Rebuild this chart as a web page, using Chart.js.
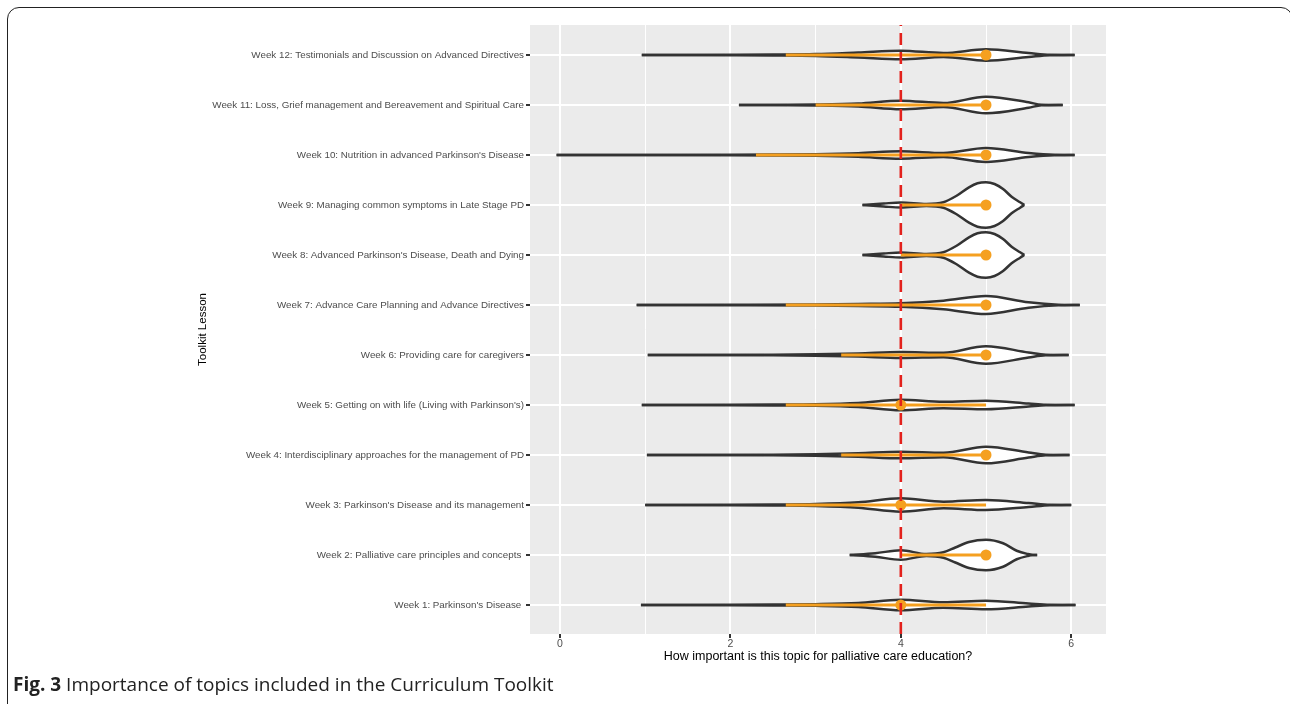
<!DOCTYPE html>
<html>
<head>
<meta charset="utf-8">
<script src="https://cdn.jsdelivr.net/npm/chart.js"></script>
<style>
  html, body { margin: 0; padding: 0; background: #fff; width: 1290px; height: 704px; overflow: hidden; }
  #wrap { position: absolute; left: 0; top: 0; width: 1290px; height: 668px; }
  #frame { position: absolute; left: 7px; top: 7px; width: 1286px; height: 720px; border: 1.5px solid #222; border-radius: 12px; box-sizing: border-box; pointer-events: none; }
  #caption { position: absolute; left: 13px; top: 672px; font-family: 'Open Sans', sans-serif; font-size: 19px; line-height: 24px; color: #222; white-space: nowrap; }
</style>
</head>
<body>
<div id="wrap"><canvas id="violinChart"></canvas></div>
<div id="frame"></div>
<div id="caption"><b>Fig. 3</b> Importance of topics included in the Curriculum Toolkit</div>
<script>
// lessons, bottom (week 1) to top (week 12)
const lessons = [
  "Week 1: Parkinson's Disease ",
  "Week 2: Palliative care principles and concepts ",
  "Week 3: Parkinson's Disease and its management",
  "Week 4: Interdisciplinary approaches for the management of PD",
  "Week 5: Getting on with life (Living with Parkinson's)",
  "Week 6: Providing care for caregivers",
  "Week 7: Advance Care Planning and Advance Directives",
  "Week 8: Advanced Parkinson's Disease, Death and Dying",
  "Week 9: Managing common symptoms in Late Stage PD",
  "Week 10: Nutrition in advanced Parkinson's Disease",
  "Week 11: Loss, Grief management and Bereavement and Spiritual Care",
  "Week 12: Testimonials and Discussion on Advanced Directives"
];

// summary point and range (orange)
const pointValues = [4, 5, 4, 5, 4, 5, 5, 5, 5, 5, 5, 5];
const rangeLow = [2.65, 4, 2.65, 3.3, 2.65, 3.3, 2.65, 4, 4, 2.3, 3, 2.65];
const rangeHigh = [5, 5, 5, 5, 5, 5, 5, 5, 5, 5, 5, 5];

// violin outline: rating values and half widths (in lesson units)
const violinValues = [
  [0.95, 2, 2.5, 3, 3.5, 4, 4.5, 5, 5.5, 5.75, 6.05],
  [3.4, 3.7, 4, 4.3, 4.5, 4.64, 4.8, 5, 5.2, 5.36, 5.49, 5.55, 5.6],
  [1.0, 2, 2.5, 3, 3.5, 4, 4.5, 5, 5.5, 5.75, 6.0],
  [1.02, 2.5, 3, 3.5, 4, 4.5, 5, 5.5, 5.7, 5.98],
  [0.96, 2, 2.5, 3, 3.5, 4, 4.5, 5, 5.5, 5.7, 6.04],
  [1.03, 2.5, 3, 3.5, 4, 4.5, 5, 5.5, 5.7, 5.97],
  [0.9, 2, 3, 3.5, 4, 4.5, 5, 5.5, 5.85, 6.1],
  [3.55, 3.8, 4, 4.3, 4.5, 4.65, 4.8, 4.9, 5, 5.1, 5.2, 5.3, 5.4, 5.45],
  [3.55, 3.8, 4, 4.3, 4.5, 4.65, 4.8, 4.9, 5, 5.1, 5.2, 5.3, 5.4, 5.45],
  [-0.04, 1, 2, 2.5, 3, 3.5, 4, 4.5, 5, 5.5, 5.8, 6.04],
  [2.1, 3, 3.5, 4, 4.5, 5, 5.5, 5.65, 5.9],
  [0.96, 2, 2.5, 3, 3.5, 4, 4.5, 5, 5.5, 5.75, 6.04]
];
const violinWidths = [
  [0, 0.004, 0.008, 0.016, 0.04, 0.106, 0.054, 0.086, 0.03, 0.004, 0],
  [0, 0.035, 0.095, 0.02, 0.055, 0.15, 0.26, 0.305, 0.235, 0.085, 0.02, 0.002, 0],
  [0, 0.004, 0.01, 0.02, 0.054, 0.134, 0.066, 0.1, 0.04, 0.004, 0],
  [0, 0.006, 0.014, 0.034, 0.066, 0.046, 0.166, 0.05, 0.006, 0],
  [0, 0.004, 0.008, 0.014, 0.04, 0.106, 0.066, 0.086, 0.03, 0.004, 0],
  [0, 0.006, 0.014, 0.03, 0.06, 0.044, 0.174, 0.05, 0.006, 0],
  [0, 0.004, 0.01, 0.02, 0.034, 0.086, 0.18, 0.054, 0.006, 0],
  [0, 0.03, 0.05, 0.02, 0.055, 0.18, 0.354, 0.434, 0.454, 0.42, 0.32, 0.166, 0.054, 0],
  [0, 0.03, 0.05, 0.02, 0.055, 0.18, 0.354, 0.434, 0.454, 0.42, 0.32, 0.166, 0.054, 0],
  [0, 0.002, 0.004, 0.008, 0.016, 0.036, 0.074, 0.04, 0.14, 0.04, 0.004, 0],
  [0, 0.01, 0.03, 0.086, 0.04, 0.166, 0.054, 0.006, 0],
  [0, 0.004, 0.008, 0.018, 0.05, 0.086, 0.04, 0.114, 0.04, 0.004, 0]
];

const xTicks = [0, 1, 2, 3, 4, 5, 6];
const refValue = 4;

const xMin = -0.352, xMax = 6.408;
const yMin = 0.42, yMax = 12.6;
const orange = '#f5a020';
const dark = '#333333';

const datasets = [];
lessons.forEach((name, i) => {
  const y = i + 1;
  const upper = violinValues[i].map((v, k) => ({ x: v, y: y + violinWidths[i][k] }));
  const lower = violinValues[i].map((v, k) => ({ x: v, y: y - violinWidths[i][k] }));
  const edge = { borderColor: dark, borderWidth: 2.5, pointRadius: 0, tension: 0.4, cubicInterpolationMode: 'monotone', order: 3 };
  datasets.push(Object.assign({ data: upper, fill: '+1', backgroundColor: '#ffffff' }, edge));
  datasets.push(Object.assign({ data: lower, fill: false }, edge));
  datasets.push({ data: [{ x: rangeLow[i], y }, { x: rangeHigh[i], y }], borderColor: orange, borderWidth: 3, pointRadius: 0, fill: false, order: 2 });
});
datasets.push({ data: pointValues.map((v, i) => ({ x: v, y: i + 1 })), showLine: false, pointRadius: 5.5, pointBackgroundColor: orange, pointBorderWidth: 0, order: 1 });
datasets.push({ data: [{ x: refValue, y: yMin }, { x: refValue, y: yMax }], borderColor: '#e3211c', borderWidth: 2.6, borderDash: [12, 7], pointRadius: 0, fill: false, order: 0 });

const panelBg = {
  id: 'panelBg',
  beforeDraw(chart) {
    const { ctx, chartArea: a } = chart;
    ctx.save();
    ctx.fillStyle = '#ebebeb';
    ctx.fillRect(a.left, a.top, a.right - a.left, a.bottom - a.top);
    ctx.restore();
  }
};

const family = "'Liberation Sans', Arial, sans-serif";

new Chart(document.getElementById('violinChart'), {
  type: 'line',
  data: { datasets },
  plugins: [panelBg],
  options: {
    responsive: true,
    maintainAspectRatio: false,
    animation: false,
    devicePixelRatio: 1,
    layout: { padding: { left: 192, right: 184, top: 25, bottom: 4 } },
    plugins: {
      legend: { display: false },
      tooltip: { enabled: false },
      filler: { drawTime: 'beforeDatasetsDraw' }
    },
    scales: {
      x: {
        type: 'linear',
        min: xMin,
        max: xMax,
        afterBuildTicks: s => { s.ticks = xTicks.map(v => ({ value: v })); },
        afterFit: s => { s.height = 30; },
        ticks: {
          autoSkip: false, maxRotation: 0, padding: 0, color: '#4d4d4d', font: { family, size: 10.5 },
          callback: v => (v % 2 === 0 ? String(v) : '')
        },
        grid: {
          color: '#ffffff',
          lineWidth: c => (c.tick && c.tick.value % 2 === 0 ? 2 : 1),
          tickColor: c => (c.tick && c.tick.value % 2 === 0 ? dark : 'rgba(0,0,0,0)'),
          tickLength: 4
        },
        border: { display: false },
        title: {
          display: true, text: 'How important is this topic for palliative care education?',
          color: '#000', font: { family, size: 12.5 }, padding: { top: 0, bottom: 0 }
        }
      },
      y: {
        type: 'linear',
        min: yMin,
        max: yMax,
        afterBuildTicks: s => { s.ticks = lessons.map((_, i) => ({ value: i + 1 })); },
        afterFit: s => { s.width = 338; },
        ticks: {
          autoSkip: false, padding: 2, color: '#4d4d4d', font: { family, size: 9.8 },
          callback: v => lessons[v - 1]
        },
        grid: { color: '#ffffff', lineWidth: 2, tickColor: dark, tickLength: 4 },
        border: { display: false },
        title: {
          display: true, text: 'Toolkit Lesson',
          color: '#000', font: { family, size: 11.5 }, padding: { top: 4, bottom: 4 }
        }
      }
    }
  }
});
</script>
</body>
</html>
